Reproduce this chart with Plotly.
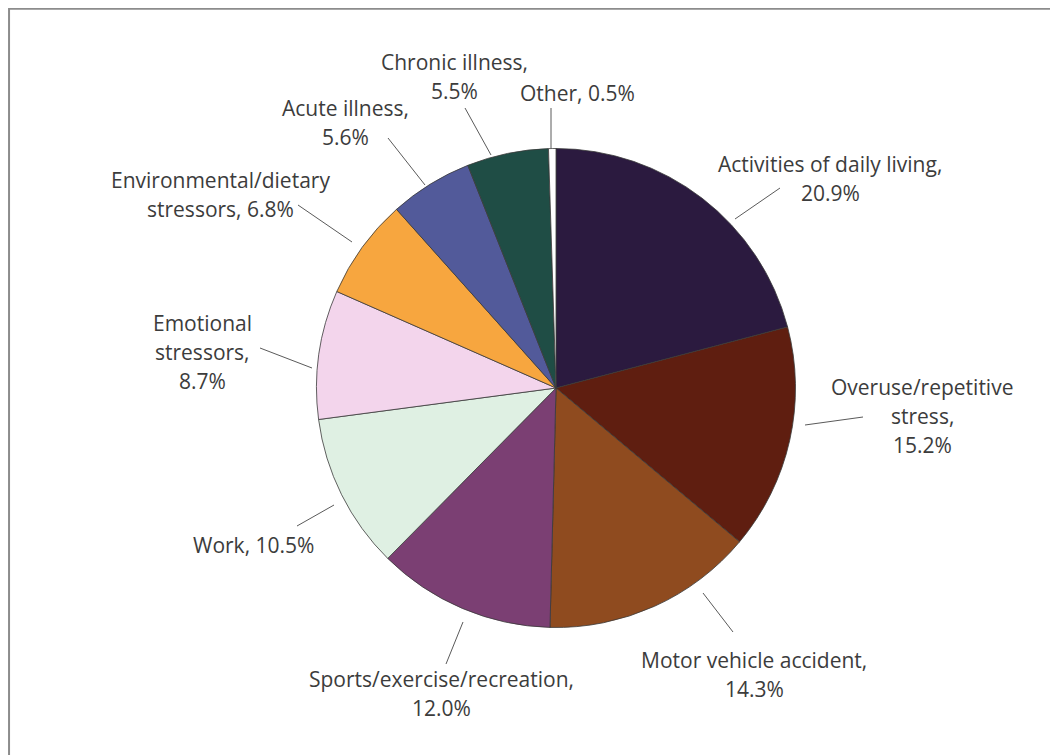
import plotly.graph_objects as go

# ---- data ----
categories = [
    "Activities of daily living", "Overuse/repetitive stress", "Motor vehicle accident",
    "Sports/exercise/recreation", "Work", "Emotional stressors",
    "Environmental/dietary stressors", "Acute illness", "Chronic illness", "Other",
]
percentages = [20.9, 15.2, 14.3, 12.0, 10.5, 8.7, 6.8, 5.6, 5.5, 0.5]

# label lines per slice (text), value appended from percentages
label_lines = [
    ["Activities of daily living,", "{v}"],
    ["Overuse/repetitive", "stress,", "{v}"],
    ["Motor vehicle accident,", "{v}"],
    ["Sports/exercise/recreation,", "{v}"],
    ["Work, {v}"],
    ["Emotional", "stressors,", "{v}"],
    ["Environmental/dietary", "stressors, {v}"],
    ["Acute illness,", "{v}"],
    ["Chronic illness,", "{v}"],
    ["Other, {v}"],
]

# ---- styles / layout (pixel positions in the reference picture) ----
colors = ["#2b1a3f", "#5f1e10", "#8f4b1f", "#7b3f73", "#dff0e3",
          "#f3d5ec", "#f7a63f", "#525a9a", "#1f4d45", "#ffffff"]

PAGE_OFF = 8              # browser default body margin
W, H = 1058 - PAGE_OFF, 755 - PAGE_OFF
cx, cy, r = 556, 388, 239.5

# text first-line centre (x, y) and line spacing
label_pos = [
    (830, 164), (922, 387), (754, 660), (441, 679), (253, 545),
    (202, 323), (220, 180), (345, 108), (454, 62), (577, 93),
]
line_gap = 29
leaders = [
    ((735, 219), (780, 188)),
    ((805, 425), (863, 417)),
    ((703, 593), (733, 632)),
    ((463, 622), (446, 664)),
    ((334, 505), (297, 526)),
    ((312, 368), (260, 348)),
    ((352, 242), (298, 205)),
    ((425, 185), (388, 138)),
    ((491, 155), (465, 108)),
    ((551, 148), (551, 108)),
]


def px(x):
    return (x - PAGE_OFF) / W


def py(y):
    return 1 - (y - PAGE_OFF) / H


fig = go.Figure()
fig.add_trace(go.Pie(
    labels=categories,
    values=percentages,
    sort=False,
    direction="clockwise",
    rotation=0,
    textinfo="none",
    hoverinfo="label+value",
    marker=dict(colors=colors, line=dict(color="#3a3a3a", width=0.8)),
    domain=dict(x=[px(cx - r), px(cx + r)], y=[py(cy + r), py(cy - r)]),
    showlegend=False,
))

annotations = []
shapes = []
for lines, v, (tx, ty), ((x0, y0), (x1, y1)) in zip(label_lines, percentages, label_pos, leaders):
    for i, ln in enumerate(lines):
        annotations.append(dict(
            x=px(tx), y=py(ty + i * line_gap), xref="paper", yref="paper",
            text=ln.format(v=f"{v:.1f}%"), showarrow=False,
            xanchor="center", yanchor="middle",
            font=dict(family="Open Sans", size=21, color="#3c3c3c"),
        ))
    shapes.append(dict(type="line", xref="paper", yref="paper",
                       x0=px(x0), y0=py(y0), x1=px(x1), y1=py(y1),
                       line=dict(color="#5a5a5a", width=1)))

# frame
shapes.append(dict(type="rect", xref="paper", yref="paper",
                   x0=0.001, y0=-0.02, x1=px(1055), y1=0.999,
                   line=dict(color="#8c8c8c", width=2)))

fig.update_layout(
    width=W, height=H,
    margin=dict(l=0, r=0, t=0, b=0),
    paper_bgcolor="#ffffff", plot_bgcolor="#ffffff",
    annotations=annotations, shapes=shapes,
)

fig.write_html("out.html")
